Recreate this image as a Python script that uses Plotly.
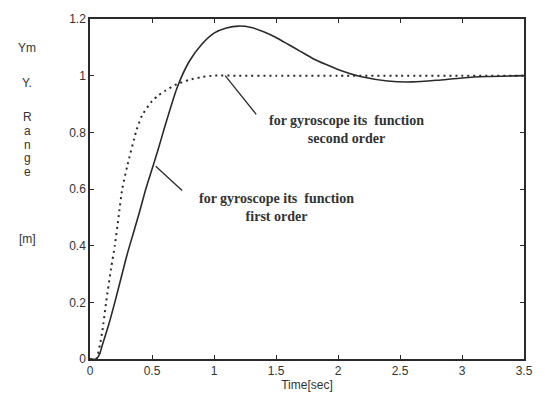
import plotly.graph_objects as go

# second-order response (solid)
t_solid = [0, 0.05, 0.08, 0.1, 0.15, 0.2, 0.25, 0.3, 0.35, 0.4, 0.45, 0.5, 0.55, 0.6, 0.7, 0.8, 0.9,
           1.0, 1.1, 1.2, 1.3, 1.4, 1.5, 1.6, 1.7, 1.8, 1.9, 2.0, 2.1, 2.2, 2.4, 2.6, 2.8, 3.0, 3.2, 3.5]
y_solid = [0, 0.0, 0.02, 0.05, 0.12, 0.2, 0.285, 0.37, 0.445, 0.52, 0.6, 0.67, 0.74, 0.815, 0.955, 1.05, 1.11,
           1.15, 1.168, 1.175, 1.17, 1.155, 1.135, 1.11, 1.085, 1.06, 1.04, 1.022, 1.007, 0.995, 0.981, 0.978,
           0.984, 0.992, 0.997, 1.0]

# first-order response (dotted)
t_dot = [0, 0.05, 0.08, 0.1, 0.13, 0.17, 0.2, 0.23, 0.26, 0.3, 0.37, 0.42, 0.5, 0.55, 0.6, 0.7, 0.8,
         0.9, 1.0, 1.2, 1.5, 2.0, 2.5, 3.0, 3.5]
y_dot = [0, 0.0, 0.05, 0.1, 0.2, 0.32, 0.4, 0.5, 0.6, 0.68, 0.8, 0.86, 0.91, 0.93, 0.945, 0.97, 0.985,
         0.995, 1.0, 1.0, 1.0, 1.0, 1.0, 1.0, 1.0]

x_ticks = [0, 0.5, 1, 1.5, 2, 2.5, 3, 3.5]
x_tick_labels = ["0", "0.5", "1", "1.5", "2", "2.5", "3", "3.5"]
y_ticks = [0, 0.2, 0.4, 0.6, 0.8, 1, 1.2]
y_tick_labels = ["0", "0.2", "0.4", "0.6", "0.8", "1", "1.2"]

ink = "#2a2a2a"

fig = go.Figure()
fig.add_trace(go.Scatter(x=t_dot, y=y_dot, mode="lines",
                         line=dict(color=ink, width=2, dash="2px,4px", shape="spline", smoothing=0.6)))
fig.add_trace(go.Scatter(x=t_solid, y=y_solid, mode="lines",
                         line=dict(color=ink, width=1.6, shape="spline", smoothing=0.6)))

axis_common = dict(showline=True, linecolor=ink, linewidth=1.5, mirror="allticks",
                   ticks="inside", ticklen=4, tickcolor=ink, showgrid=False, zeroline=False,
                   tickfont=dict(family="Liberation Sans, Arial", size=12, color="#333"))

fig.update_xaxes(range=[0, 3.5], tickvals=x_ticks, ticktext=x_tick_labels,
                 title=dict(text="Time[sec]", font=dict(family="Liberation Sans, Arial", size=12, color="#333"),
                            standoff=2),
                 **axis_common)
fig.update_yaxes(range=[0, 1.2], tickvals=y_ticks, ticktext=y_tick_labels, **axis_common)

serif = dict(family="Liberation Serif, Times New Roman", size=14, color="#333", weight="bold")

# Y-axis label as stacked text
ylab = [("Ym", 48), ("Y.", 84), ("R", 118), ("a", 132), ("n", 146), ("g", 160), ("e", 174), ("[m]", 242)]
for txt, py in ylab:
    fig.add_annotation(text=txt, xref="paper", yref="paper", x=(26 - 90) / 442, y=(363 - py) / 344,
                       showarrow=False, xanchor="center", yanchor="middle",
                       font=dict(family="Liberation Sans, Arial", size=12, color="#333"))

# annotations with pointer lines
fig.add_annotation(x=1.09, y=1.0, ax=1.35, ay=0.858, axref="x", ayref="y", xref="x", yref="y",
                   showarrow=True, arrowhead=0, arrowwidth=1.3, arrowcolor=ink, text="")
fig.add_annotation(x=2.07, y=0.81, xref="x", yref="y", showarrow=False,
                   text="for gyroscope its  function<br>second order", align="center",
                   font=serif, yanchor="middle")
fig.add_annotation(x=0.53, y=0.68, ax=0.755, ay=0.59, axref="x", ayref="y", xref="x", yref="y",
                   showarrow=True, arrowhead=0, arrowwidth=1.3, arrowcolor=ink, text="")
fig.add_annotation(x=1.50, y=0.535, xref="x", yref="y", showarrow=False,
                   text="for gyroscope its  function<br>first order", align="center",
                   font=serif, yanchor="middle")

fig.update_layout(width=545, height=401, margin=dict(l=90, r=13, t=19, b=38),
                  paper_bgcolor="white", plot_bgcolor="white", showlegend=False)

fig.write_html("out.html")
